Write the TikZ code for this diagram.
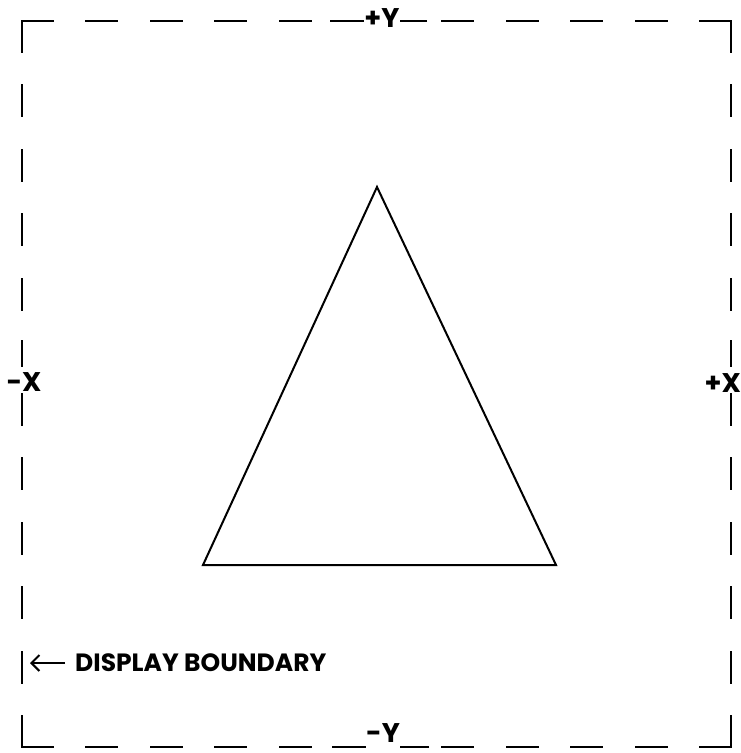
\documentclass[tikz,border=0pt]{standalone}
\usepackage{fontspec}
\setmainfont{Poppins}
\usetikzlibrary{arrows.meta}
\tikzset{
  bnd/.style={line width=2.7pt, line cap=rect, dash pattern=on 30.3pt off 34.2pt},
  bndsolid/.style={line width=2.7pt, line cap=butt},
  axlbl/.style={font=\fontsize{27}{27}\selectfont\bfseries, inner sep=0pt},
  tri/.style={line width=2pt, line join=miter},
  note/.style={font=\fontsize{25}{25}\selectfont\bfseries, inner xsep=10pt, inner ysep=0pt, anchor=west},
}
\begin{document}
\begin{tikzpicture}[x=1pt,y=-1pt]
\useasboundingbox (0,0) rectangle (741,753);
% corners of the display boundary
\coordinate (TL) at (22,21);
\coordinate (TR) at (731,21);
\coordinate (BL) at (22,747);
\coordinate (BR) at (731,747);
% axis labels
\node[axlbl] (ty) at (382,18) {+Y};
\node[axlbl] (by) at (383,733) {-Y};
\node[axlbl] (lx) at (24,382) {-X};
\node[axlbl, anchor=east] (rx) at (741,383) {+X};
% dashed boundary, drawn from each corner toward the labels
\draw[bnd] (TL) -- (314,21);
\draw[bnd] (TR) -- (440,21);
\draw[bnd] (BL) -- (314,747);
\draw[bnd] (BR) -- (440,747);
\draw[bnd] (TL) -- (22,314);
\draw[bnd] (BL) -- (22,392);
\draw[bnd] (TR) -- (731,314);
\draw[bnd] (BR) -- (731,392);
% segments leading into the labels
\coordinate (t1) at (330,21);
\coordinate (t2) at (427,21);
\coordinate (b1) at (332,747);
\coordinate (b2) at (429,747);
\coordinate (l1) at (22,340);
\coordinate (r1) at (731,340);
\draw[bndsolid] (t1) -- (t1 -| ty.west);
\draw[bndsolid] (t2) -- (t2 -| ty.east);
\draw[bndsolid] (b1) -- (b1 -| by.west);
\draw[bndsolid] (b2) -- (b2 -| by.east);
\draw[bndsolid] (l1) -- (22,367);
\draw[bndsolid] (r1) -- (731,367);
% triangle
\coordinate (A) at (377,187);
\coordinate (B) at (203,565);
\coordinate (C) at (556,565);
\draw[tri] (A) -- (B) -- (C) -- cycle;
% boundary note
\node[note] (db) at (65,663) {DISPLAY BOUNDARY};
\coordinate (tip) at (30,663);
\draw[line width=2pt, -{Straight Barb[length=8pt,width=16pt,line width=2pt]}] (db.west) -- (tip);
\end{tikzpicture}
\end{document}
